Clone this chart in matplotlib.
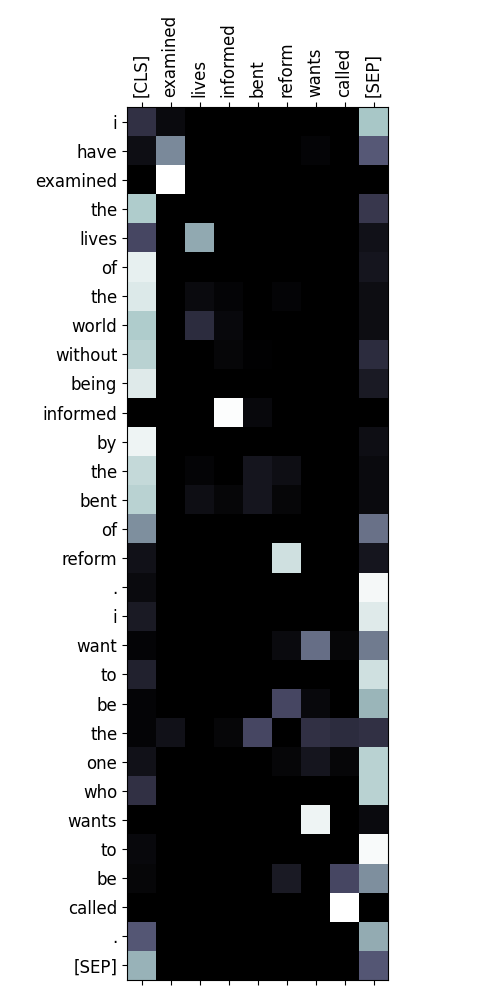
import matplotlib
matplotlib.use("Agg")
import matplotlib.pyplot as plt
import numpy as np

plt.rcParams['font.family'] = ['DejaVu Sans']

col_labels = ["[CLS]", "examined", "lives", "informed", "bent", "reform", "wants", "called", "[SEP]"]
row_labels = ["i", "have", "examined", "the", "lives", "of", "the", "world", "without", "being",
              "informed", "by", "the", "bent", "of", "reform", ".", "i", "want", "to", "be",
              "the", "one", "who", "wants", "to", "be", "called", ".", "[SEP]"]

# attention weights (rows = tokens, cols = selected keys)
attn = np.array([
    [0.22, 0.05, 0.00, 0.00, 0.00, 0.00, 0.00, 0.00, 0.75],
    [0.07, 0.55, 0.00, 0.00, 0.00, 0.00, 0.02, 0.00, 0.39],
    [0.00, 1.00, 0.00, 0.00, 0.00, 0.00, 0.00, 0.00, 0.00],
    [0.77, 0.00, 0.00, 0.00, 0.00, 0.00, 0.00, 0.00, 0.25],
    [0.32, 0.00, 0.65, 0.00, 0.00, 0.00, 0.00, 0.00, 0.08],
    [0.93, 0.00, 0.00, 0.00, 0.00, 0.00, 0.00, 0.00, 0.10],
    [0.90, 0.00, 0.05, 0.02, 0.00, 0.02, 0.00, 0.00, 0.06],
    [0.77, 0.00, 0.20, 0.04, 0.00, 0.00, 0.00, 0.00, 0.06],
    [0.80, 0.00, 0.00, 0.03, 0.01, 0.00, 0.00, 0.00, 0.20],
    [0.91, 0.00, 0.00, 0.00, 0.00, 0.00, 0.00, 0.00, 0.12],
    [0.00, 0.00, 0.00, 0.99, 0.04, 0.00, 0.00, 0.00, 0.00],
    [0.95, 0.00, 0.00, 0.00, 0.00, 0.00, 0.00, 0.00, 0.07],
    [0.83, 0.00, 0.02, 0.00, 0.10, 0.07, 0.00, 0.00, 0.05],
    [0.80, 0.00, 0.07, 0.03, 0.10, 0.03, 0.00, 0.00, 0.05],
    [0.57, 0.00, 0.00, 0.00, 0.00, 0.00, 0.00, 0.00, 0.47],
    [0.08, 0.00, 0.00, 0.00, 0.00, 0.86, 0.00, 0.00, 0.10],
    [0.05, 0.00, 0.00, 0.00, 0.00, 0.00, 0.00, 0.00, 0.97],
    [0.12, 0.00, 0.00, 0.00, 0.00, 0.00, 0.00, 0.00, 0.91],
    [0.02, 0.00, 0.00, 0.00, 0.00, 0.05, 0.46, 0.03, 0.50],
    [0.15, 0.00, 0.00, 0.00, 0.00, 0.00, 0.00, 0.00, 0.86],
    [0.02, 0.00, 0.00, 0.00, 0.00, 0.32, 0.04, 0.00, 0.69],
    [0.02, 0.08, 0.00, 0.03, 0.32, 0.00, 0.22, 0.20, 0.22],
    [0.08, 0.00, 0.00, 0.00, 0.00, 0.03, 0.10, 0.03, 0.80],
    [0.22, 0.00, 0.00, 0.00, 0.00, 0.00, 0.00, 0.00, 0.80],
    [0.00, 0.00, 0.00, 0.00, 0.00, 0.00, 0.95, 0.00, 0.05],
    [0.04, 0.00, 0.00, 0.00, 0.00, 0.00, 0.00, 0.00, 0.98],
    [0.03, 0.00, 0.00, 0.00, 0.00, 0.12, 0.00, 0.32, 0.57],
    [0.00, 0.00, 0.00, 0.00, 0.00, 0.00, 0.00, 1.00, 0.00],
    [0.38, 0.00, 0.00, 0.00, 0.00, 0.00, 0.00, 0.00, 0.66],
    [0.68, 0.00, 0.00, 0.00, 0.00, 0.00, 0.00, 0.00, 0.38],
])

fig = plt.figure(figsize=(5, 10), dpi=100)
ax = fig.add_axes([0.254, 0.02, 0.522, 0.873])
ax.imshow(attn, cmap="bone", vmin=0, vmax=1, aspect="auto", interpolation="nearest")

ax.set_xticks(range(len(col_labels)))
ax.set_xticklabels(col_labels, rotation=90, fontsize=12)
ax.set_yticks(range(len(row_labels)))
ax.set_yticklabels(row_labels, fontsize=12)
ax.tick_params(axis="x", top=True, labeltop=True, bottom=True, labelbottom=False)

plt.savefig("out.png")
